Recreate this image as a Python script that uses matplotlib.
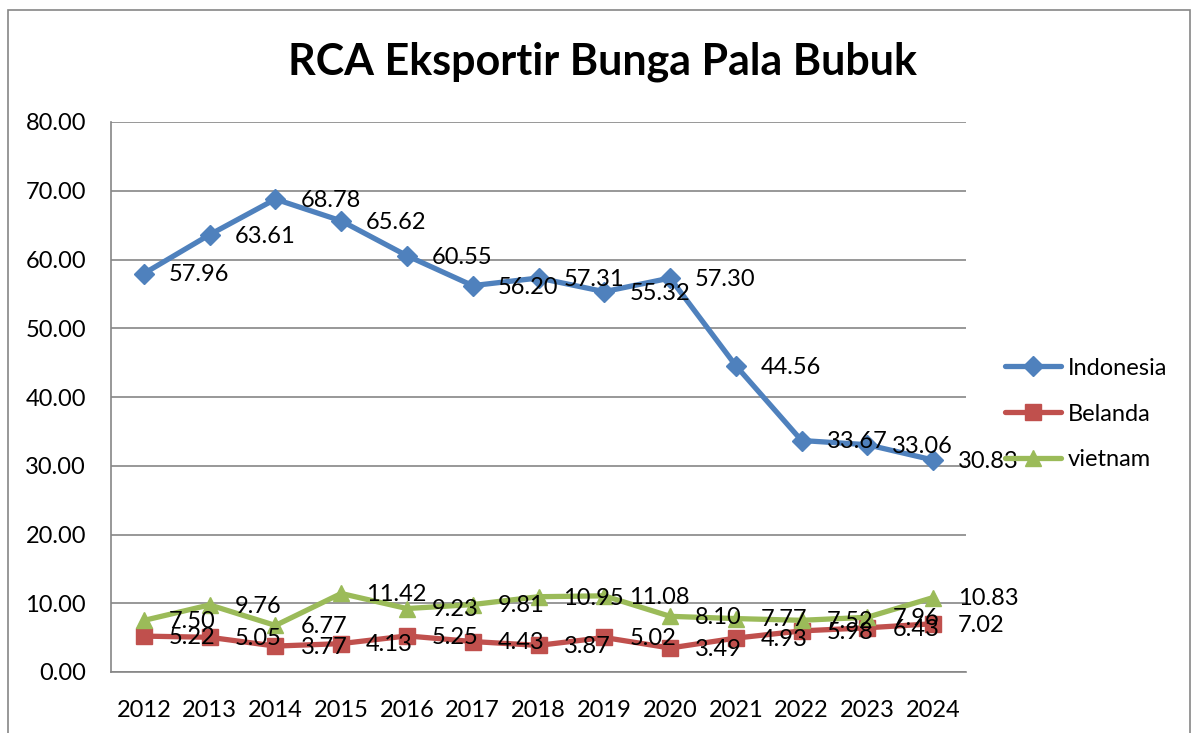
import matplotlib
matplotlib.use("Agg")
import matplotlib.pyplot as plt
from matplotlib.patches import Rectangle

years = ["2012", "2013", "2014", "2015", "2016", "2017", "2018",
         "2019", "2020", "2021", "2022", "2023", "2024"]
indonesia = [57.96, 63.61, 68.78, 65.62, 60.55, 56.20, 57.31, 55.32, 57.30, 44.56, 33.67, 33.06, 30.83]
belanda = [5.22, 5.05, 3.77, 4.13, 5.25, 4.43, 3.87, 5.02, 3.49, 4.93, 5.98, 6.43, 7.02]
vietnam = [7.50, 9.76, 6.77, 11.42, 9.23, 9.81, 10.95, 11.08, 8.10, 7.77, 7.52, 7.96, 10.83]
yticks = [0, 10, 20, 30, 40, 50, 60, 70, 80]

plt.rcParams['font.family'] = ['Lato', 'DejaVu Sans']
FS = 17

W, H = 1200, 733
fig = plt.figure(figsize=(W/100, H/100), dpi=100)

# outer chart border
fig.patches.append(Rectangle((8/W, -0.05), (1190-8)/W, 1.05 - 10/H,
                             transform=fig.transFigure, fill=False,
                             edgecolor='#868686', linewidth=1.2))

ax = fig.add_axes([111/W, 1-672/H, (966-111)/W, (672-122)/H])

series = [
    ("Indonesia", indonesia, '#4F81BD', 'D', 10),
    ("Belanda", belanda, '#C0504D', 's', 11),
    ("vietnam", vietnam, '#9BBB59', '^', 12),
]
x = list(range(len(years)))
for name, vals, col, mk, ms in series:
    ax.plot(x, vals, color=col, linewidth=3.8, marker=mk, markersize=ms,
            label=name, solid_capstyle='round', solid_joinstyle='round')
    for xi, v in zip(x, vals):
        ax.annotate(f"{v:.2f}", (xi, v), xytext=(18, -1), textcoords='offset points',
                    ha='left', va='center', fontsize=FS, color='black')

ax.set_xlim(-0.5, len(years) - 0.5)
ax.set_ylim(0, 80)
ax.set_yticks(yticks)
ax.set_yticklabels([f"{t:.2f}" for t in yticks], fontsize=FS)
ax.set_xticks(x)
ax.set_xticklabels(years, fontsize=FS)
ax.tick_params(axis='both', length=0)
ax.tick_params(axis='y', pad=18)
ax.tick_params(axis='x', pad=20)
ax.grid(axis='y', color='#868686', linewidth=1.2)
ax.set_axisbelow(True)
for side in ['top', 'right']:
    ax.spines[side].set_visible(False)
for side in ['left', 'bottom']:
    ax.spines[side].set_color('#868686')
    ax.spines[side].set_linewidth(1.2)

fig.text(602/W, 1-62/H, "RCA Eksportir Bunga Pala Bubuk", ha='center', va='center',
         fontsize=31, fontweight='bold')

leg = ax.legend(loc='center left', bbox_to_anchor=(1.021, 0.469), frameon=False,
                fontsize=FS, handlelength=2.35, labelspacing=1.05, handletextpad=0.3)

fig.savefig("out.png", dpi=100)
